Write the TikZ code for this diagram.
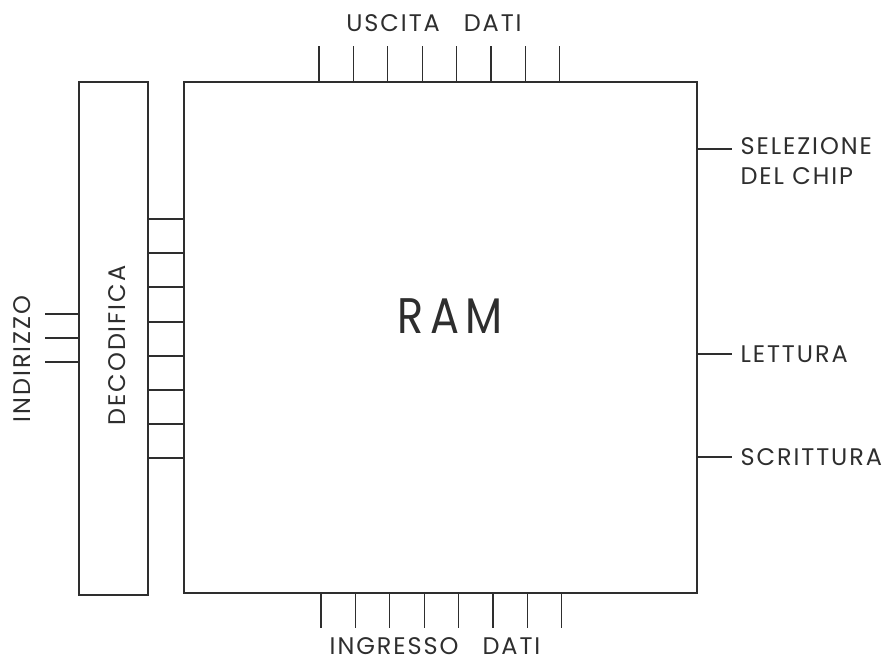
\documentclass[tikz,border=0pt]{standalone}
\usepackage{fontspec}
\setmainfont{Poppins}[LetterSpace=8]
\usepackage{xcolor}
\usepackage{tikz}
\usetikzlibrary{positioning}
\definecolor{inkgray}{HTML}{2E2E2E}

\begin{document}
\begin{tikzpicture}[x=1pt, y=-1pt, line width=1.1pt, draw=inkgray,
    blockbox/.style={draw=inkgray, rectangle, inner sep=0pt},
    pinlabel/.style={text=inkgray, font=\fontsize{24}{30}\selectfont, inner sep=0pt},
    pinline/.style={draw=inkgray}]
  \useasboundingbox (0,0) rectangle (884,663);

  % blocks
  \node[blockbox, minimum width=513pt, minimum height=511pt] (ram) at (440.5,337.5) {};
  \node[text=inkgray, font=\fontsize{50}{56}\selectfont\addfontfeatures{FakeStretch=0.86, LetterSpace=12}, inner sep=0pt] (ramlabel) at (450,316.5) {RAM};
  \node[blockbox, minimum width=69pt, minimum height=513pt] (dec) at (113.5,338.5) {};
  \node[pinlabel, rotate=90] (declabel) at (117,345.5) {DECODIFICA};

  % decoder to memory
  \foreach \y in {219,253,287,322,356,390,424,458}
    \draw[pinline] (dec.east |- 0,\y) -- (ram.west |- 0,\y);

  % address
  \foreach \y in {314,338,362}
    \draw[pinline] (45,\y) -- (dec.west |- 0,\y);
  \node[pinlabel, rotate=90] (addrlabel) at (22,359) {INDIRIZZO};

  % data out / data in
  \foreach \x in {319,353.4,387.8,422.2,456.6,491,525.4,559.8}
    \draw[pinline] (ram.north -| \x,0) -- ++(0,-35);
  \foreach \x in {321,355.4,389.8,424.2,458.6,493,527.4,561.8}
    \draw[pinline] (ram.south -| \x,0) -- ++(0,34);
  \node[pinlabel, anchor=base] (outlabel) at (434,32) {USCITA\quad DATI};
  \node[pinlabel, anchor=base] (inlabel) at (435,654) {INGRESSO\quad DATI};

  % control
  \coordinate (cs) at (732,149);
  \coordinate (rd) at (732,354);
  \coordinate (wr) at (732,457);
  \draw[pinline] (ram.east |- cs) -- (cs);
  \draw[pinline] (ram.east |- rd) -- (rd);
  \draw[pinline] (ram.east |- wr) -- (wr);
  \node[pinlabel, anchor=west, align=left] (cslabel) at (740,161) {SELEZIONE\\DEL CHIP};
  \node[pinlabel, anchor=west] (rdlabel) at (740,354) {LETTURA};
  \node[pinlabel, anchor=west] (wrlabel) at (740,457) {SCRITTURA};
\end{tikzpicture}
\end{document}
